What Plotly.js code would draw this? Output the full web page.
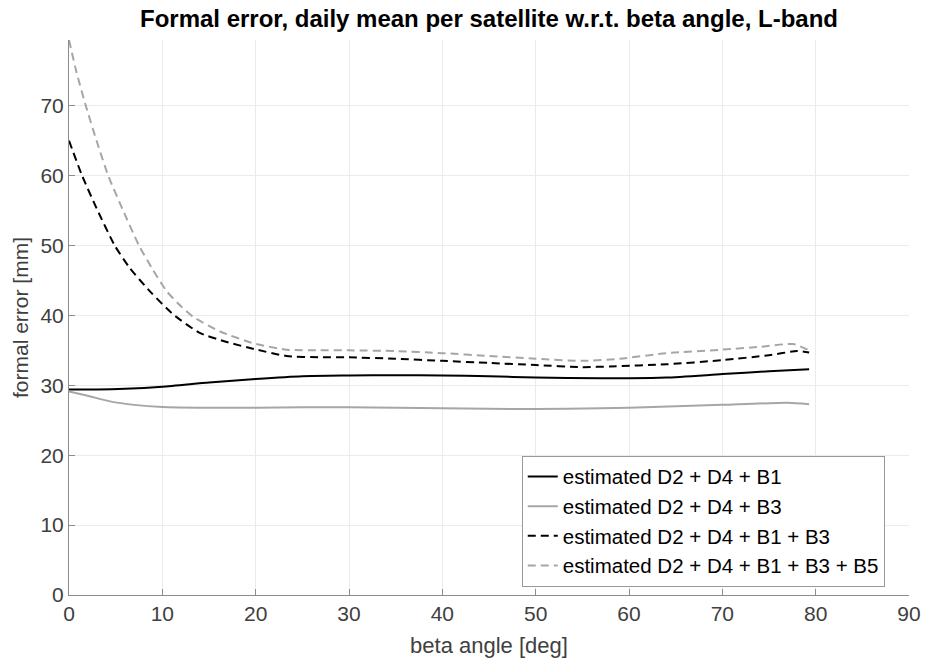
<!DOCTYPE html>
<html>
<head>
<meta charset="utf-8">
<script src="https://cdn.plot.ly/plotly-3.0.1.min.js"></script>
<style>html,body{margin:0;padding:0;background:#fff}#chart{width:935px;height:659px}</style>
</head>
<body>
<div id="chart"></div>
<script>
// Series: D2 + D4 + B1 (black solid)
const xB1 = [0, 3, 6, 10, 15, 20, 25, 30, 35, 40, 45, 50, 57, 60, 64, 70, 75, 79.3];
const yB1 = [29.4, 29.4, 29.5, 29.8, 30.4, 30.9, 31.3, 31.4, 31.45, 31.4, 31.3, 31.1, 31.0, 31.0, 31.1, 31.6, 32.0, 32.3];
// Series: D2 + D4 + B3 (gray solid)
const xB3 = [0, 2, 4.4, 7, 10, 15, 20, 25, 30, 40, 50, 57, 60, 65, 70, 77, 79.3];
const yB3 = [29.1, 28.5, 27.7, 27.2, 26.9, 26.8, 26.8, 26.85, 26.85, 26.7, 26.6, 26.7, 26.8, 27.0, 27.2, 27.5, 27.3];
// Series: D2 + D4 + B1 + B3 (black dashed)
const xB13 = [0, 1.4, 3, 4.9, 6.5, 8.7, 11.2, 14, 16.9, 19.8, 23.3, 26.9, 30, 35, 40, 45, 50, 55, 58, 64, 70, 75, 78, 79.3];
const yB13 = [65, 60, 55.2, 50, 46.8, 43.4, 40.1, 37.5, 36.2, 35.2, 34.2, 34.0, 34.0, 33.8, 33.5, 33.2, 32.9, 32.6, 32.7, 33.0, 33.6, 34.3, 34.9, 34.7];
// Series: D2 + D4 + B1 + B3 + B5 (gray dashed)
const xB135 = [0, 0.8, 1.8, 3, 4.2, 5.8, 7.5, 9, 10.5, 12, 13.3, 16.2, 19.8, 23.3, 26.9, 30, 35, 40, 45, 50, 55, 59, 64, 70, 74, 77.6, 79.3];
const yB135 = [79.4, 74.8, 70, 64.8, 60, 55, 50, 46.5, 43.4, 41.3, 39.8, 37.7, 36.0, 35.1, 35.0, 35.0, 34.9, 34.6, 34.2, 33.8, 33.5, 33.8, 34.6, 35.1, 35.5, 35.9, 35.0];
const names = ['estimated D2 + D4 + B1', 'estimated D2 + D4 + B3', 'estimated D2 + D4 + B1 + B3', 'estimated D2 + D4 + B1 + B3 + B5'];
const xTicks = [0, 10, 20, 30, 40, 50, 60, 70, 80, 90];
const yTicks = [0, 10, 20, 30, 40, 50, 60, 70];

const FONT = 'Liberation Sans, Arial, sans-serif';
const mk = (x, y, name, color, dash) => ({
  x, y, name, type: 'scatter', mode: 'lines',
  line: {color, width: 2, dash, shape: 'spline', smoothing: 0.6}
});
const data = [
  mk(xB1, yB1, names[0], '#000000', 'solid'),
  mk(xB3, yB3, names[1], '#a6a6a6', 'solid'),
  mk(xB13, yB13, names[2], '#000000', '8px,5px'),
  mk(xB135, yB135, names[3], '#a6a6a6', '8px,5px')
];
const axisCommon = {
  showgrid: true, gridcolor: '#ebebeb', gridwidth: 1,
  showline: true, linecolor: '#8c8c8c', linewidth: 1,
  ticks: 'inside', ticklen: 6, tickcolor: '#8c8c8c',
  zeroline: false, mirror: false,
  tickfont: {family: FONT, size: 21, color: '#404040'}
};
const layout = {
  width: 935, height: 659,
  margin: {l: 69, r: 26, t: 40, b: 64},
  paper_bgcolor: '#fff', plot_bgcolor: '#fff',
  font: {family: FONT, color: '#404040'},
  title: {text: 'Formal error, daily mean per satellite w.r.t. beta angle, L-band',
    font: {family: FONT, size: 24, color: '#000', weight: 'bold'},
    x: 0.5, xref: 'paper', xanchor: 'center', y: 0.972, yref: 'container', yanchor: 'middle'},
  xaxis: Object.assign({}, axisCommon, {
    range: [0, 90], tickvals: xTicks, ticktext: xTicks.map(String),
    title: {text: 'beta angle [deg]', font: {family: FONT, size: 22, color: '#404040'}, standoff: 13}
  }),
  yaxis: Object.assign({}, axisCommon, {
    range: [0, 79.4], tickvals: yTicks, ticktext: yTicks.map(String),
    title: {text: 'formal error [mm]', font: {family: FONT, size: 21, color: '#404040'}, standoff: 6}
  }),
  showlegend: true,
  legend: {
    x: 0.539, y: 0.015, xanchor: 'left', yanchor: 'bottom',
    bgcolor: '#fff', bordercolor: '#999', borderwidth: 1,
    font: {family: FONT, size: 20.5, color: '#000'},
    tracegroupgap: 0, itemwidth: 30
  }
};
Plotly.newPlot('chart', data, layout, {displayModeBar: false, staticPlot: true});
</script>
</body>
</html>
